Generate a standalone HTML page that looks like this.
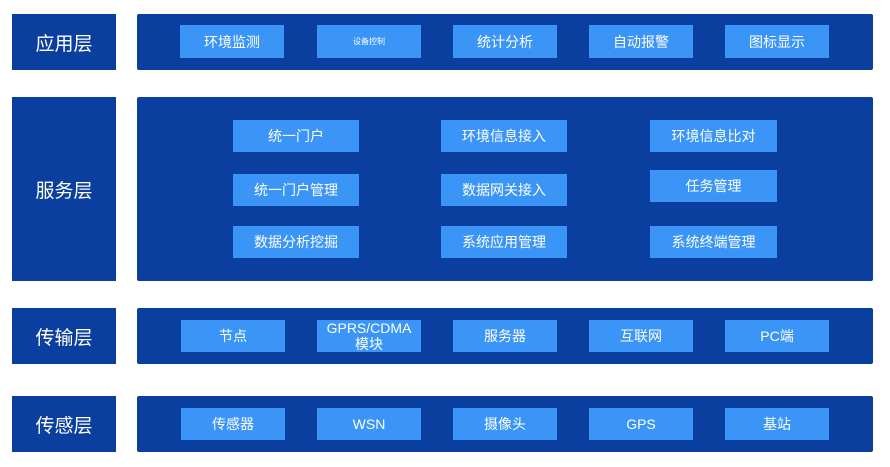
<!DOCTYPE html><html><head><meta charset="utf-8"><style>
body{margin:0;width:890px;height:467px;background:#fff;position:relative;overflow:hidden;font-family:"Liberation Sans","Noto Sans CJK SC",sans-serif}
.d{position:absolute;background:#0a3e9f;border-radius:2px}
.l{position:absolute;background:#0a3e9f;color:#fff;font-size:19px;display:flex;align-items:center;justify-content:center}
.b{position:absolute;background:#3a95f6;color:#fff;font-size:14px;display:flex;align-items:center;justify-content:center;text-align:center;line-height:16px}
</style></head><body>
<div class="l" style="left:12px;top:14px;width:104px;height:56px">应用层</div>
<div class="l" style="left:12px;top:97px;width:104px;height:184px">服务层</div>
<div class="l" style="left:12px;top:308px;width:104px;height:56px">传输层</div>
<div class="l" style="left:12px;top:396px;width:104px;height:56px">传感层</div>
<div class="d" style="left:137px;top:14px;width:736px;height:56px"></div>
<div class="d" style="left:137px;top:97px;width:736px;height:184px"></div>
<div class="d" style="left:137px;top:308px;width:736px;height:56px"></div>
<div class="d" style="left:137px;top:396px;width:736px;height:56px"></div>

<div class="b" style="left:180px;top:25px;width:104px;height:33px">环境监测</div>
<div class="b" style="left:317px;top:25px;width:104px;height:33px;font-size:8px">设备控制</div>
<div class="b" style="left:453px;top:25px;width:104px;height:33px">统计分析</div>
<div class="b" style="left:589px;top:25px;width:104px;height:33px">自动报警</div>
<div class="b" style="left:725px;top:25px;width:104px;height:33px">图标显示</div>

<div class="b" style="left:233px;top:120px;width:126px;height:32px">统一门户</div>
<div class="b" style="left:441px;top:120px;width:126px;height:32px">环境信息接入</div>
<div class="b" style="left:650px;top:120px;width:127px;height:32px">环境信息比对</div>
<div class="b" style="left:233px;top:174px;width:126px;height:32px">统一门户管理</div>
<div class="b" style="left:441px;top:174px;width:126px;height:32px">数据网关接入</div>
<div class="b" style="left:650px;top:170px;width:127px;height:32px">任务管理</div>
<div class="b" style="left:233px;top:226px;width:126px;height:32px">数据分析挖掘</div>
<div class="b" style="left:441px;top:226px;width:126px;height:32px">系统应用管理</div>
<div class="b" style="left:650px;top:226px;width:127px;height:32px">系统终端管理</div>

<div class="b" style="left:181px;top:320px;width:104px;height:32px">节点</div>
<div class="b" style="left:317px;top:320px;width:104px;height:32px">GPRS/CDMA<br>模块</div>
<div class="b" style="left:453px;top:320px;width:104px;height:32px">服务器</div>
<div class="b" style="left:589px;top:320px;width:104px;height:32px">互联网</div>
<div class="b" style="left:725px;top:320px;width:104px;height:32px">PC端</div>

<div class="b" style="left:181px;top:408px;width:104px;height:32px">传感器</div>
<div class="b" style="left:317px;top:408px;width:104px;height:32px">WSN</div>
<div class="b" style="left:453px;top:408px;width:104px;height:32px">摄像头</div>
<div class="b" style="left:589px;top:408px;width:104px;height:32px">GPS</div>
<div class="b" style="left:725px;top:408px;width:104px;height:32px">基站</div>
</body></html>
